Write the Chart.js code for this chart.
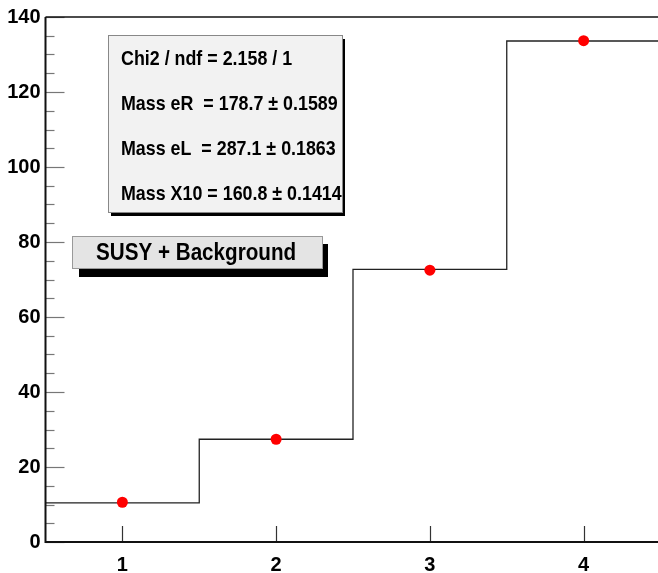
<!DOCTYPE html>
<html>
<head>
<meta charset="utf-8">
<script src="https://cdn.jsdelivr.net/npm/chart.js@4/dist/chart.umd.min.js"></script>
<style>
  html, body { margin: 0; padding: 0; background: #fff; overflow: hidden; }
  canvas { display: block; }
</style>
</head>
<body>
<canvas id="fit" width="666" height="573"></canvas>
<script>
// bin edges and histogram contents (SUSY + background)
const binEdges = [0.5, 1.5, 2.5, 3.5, 4.5]
const binContent = [10.45, 27.4, 72.7, 133.6]
// measured points
const pointX = [1, 2, 3, 4]
const pointY = [10.6, 27.4, 72.5, 133.7]
// axis ticks
const xTicks = [1, 2, 3, 4]
const yLabels = [0, 20, 40, 60, 80, 100, 120, 140]
// fit results box
const statLines = [
    'Chi2 / ndf = 2.158 / 1',
    'Mass eR  = 178.7 \u00b1 0.1589',
    'Mass eL  = 287.1 \u00b1 0.1863',
    'Mass X10 = 160.8 \u00b1 0.1414'
]
const legendText = 'SUSY + Background'

const FONT = '"Liberation Sans", Arial, Helvetica, sans-serif'

// step line: each edge carries the content of the bin to its right,
// last edge repeats the final bin
let histPoints = binEdges.map((x, i) => ({ x: x, y: binContent[Math.min(i, binContent.length - 1)] }))
let dataPoints = pointX.map((x, i) => ({ x: x, y: pointY[i] }))

// frame + inward tick marks, drawn from the scales
const frameTicks = {
    id: 'frameTicks',
    afterDatasetsDraw(chart) {
        const ctx = chart.ctx
        const a = chart.chartArea
        const xs = chart.scales.x
        const ys = chart.scales.y
        ctx.save()
        // y ticks every 5, major every 20
        ctx.strokeStyle = '#777'
        ctx.lineWidth = 1.2
        for (let v = 0; v <= 140; v += 5) {
            const py = Math.round(ys.getPixelForValue(v)) + 0.5
            const len = v % 20 === 0 ? 19 : 9
            ctx.beginPath()
            ctx.moveTo(a.left, py)
            ctx.lineTo(a.left + len, py)
            ctx.stroke()
        }
        // x ticks upward
        ctx.strokeStyle = '#333'
        xTicks.forEach(v => {
            const px = Math.round(xs.getPixelForValue(v)) + 0.5
            ctx.beginPath()
            ctx.moveTo(px, a.bottom)
            ctx.lineTo(px, a.bottom - 16)
            ctx.stroke()
        })
        // frame
        ctx.strokeStyle = '#111'
        ctx.lineWidth = 1.5
        ctx.beginPath()
        ctx.moveTo(a.left, a.top)
        ctx.lineTo(a.right + 5, a.top)
        ctx.stroke()
        ctx.lineWidth = 2
        ctx.beginPath()
        ctx.moveTo(a.left, a.top)
        ctx.lineTo(a.left, a.bottom)
        ctx.lineTo(a.right + 5, a.bottom)
        ctx.stroke()
        ctx.restore()
    },
    afterDraw(chart) {
        const ctx = chart.ctx
        ctx.save()
        // stats box
        let bx = 108, by = 35, bw = 234, bh = 177
        ctx.fillStyle = '#000'
        ctx.fillRect(bx + 3, by + 4, bw, bh)
        ctx.fillStyle = '#f2f2f2'
        ctx.fillRect(bx, by, bw, bh)
        ctx.strokeStyle = '#888'
        ctx.lineWidth = 1
        ctx.strokeRect(bx + 0.5, by + 0.5, bw, bh)
        ctx.fillStyle = '#000'
        ctx.font = 'bold 21px ' + FONT
        ctx.textBaseline = 'middle'
        statLines.forEach((s, i) => {
            ctx.save()
            ctx.translate(121, 59 + i * 45)
            ctx.scale(0.85, 1)
            ctx.fillText(s, 0, 0)
            ctx.restore()
        })
        // legend box
        let lx = 72, ly = 236, lw = 250, lh = 32
        ctx.fillStyle = '#000'
        ctx.fillRect(lx + 7, ly + 8, lw - 1, lh + 1)
        ctx.fillStyle = '#e4e4e4'
        ctx.fillRect(lx, ly, lw, lh)
        ctx.strokeStyle = '#999'
        ctx.strokeRect(lx + 0.5, ly + 0.5, lw, lh)
        ctx.fillStyle = '#000'
        ctx.font = 'bold 24px ' + FONT
        ctx.save()
        ctx.translate(96, 253)
        ctx.scale(0.86, 1)
        ctx.fillText(legendText, 0, 0)
        ctx.restore()
        ctx.restore()
    }
}

new Chart(document.getElementById('fit'), {
    type: 'scatter',
    data: {
        datasets: [{
            label: 'SUSY + Background',
            type: 'line',
            data: histPoints,
            stepped: 'before',
            borderColor: '#222',
            borderWidth: 1.3,
            pointRadius: 0,
            fill: false,
            order: 2
        }, {
            label: 'data',
            data: dataPoints,
            backgroundColor: '#ff0000',
            borderColor: '#ff0000',
            pointRadius: 5.5,
            pointBorderWidth: 0,
            order: 1
        }]
    },
    options: {
        responsive: false,
        animation: false,
        layout: { padding: { top: 16, right: 1, left: 0, bottom: 0 } },
        plugins: {
            legend: { display: false },
            tooltip: { enabled: false }
        },
        scales: {
            x: {
                type: 'linear',
                min: 0.5,
                max: 4.5,
                afterFit(scale) {
                    scale.height = 31
                    scale.paddingLeft = 0
                    scale.paddingRight = 0
                },
                afterBuildTicks(scale) { scale.ticks = xTicks.map(v => ({ value: v })) },
                grid: { display: false, drawTicks: false },
                border: { display: false },
                ticks: {
                    padding: 11,
                    color: '#000',
                    font: { family: FONT, size: 20, weight: 'bold' }
                }
            },
            y: {
                type: 'linear',
                min: 0,
                max: 140,
                afterFit(scale) { scale.width = 45.5 },
                afterBuildTicks(scale) { scale.ticks = yLabels.map(v => ({ value: v })) },
                grid: { display: false, drawTicks: false },
                border: { display: false },
                ticks: {
                    padding: 5,
                    color: '#000',
                    font: { family: FONT, size: 20, weight: 'bold' }
                }
            }
        }
    },
    plugins: [frameTicks]
})
</script>
</body>
</html>
